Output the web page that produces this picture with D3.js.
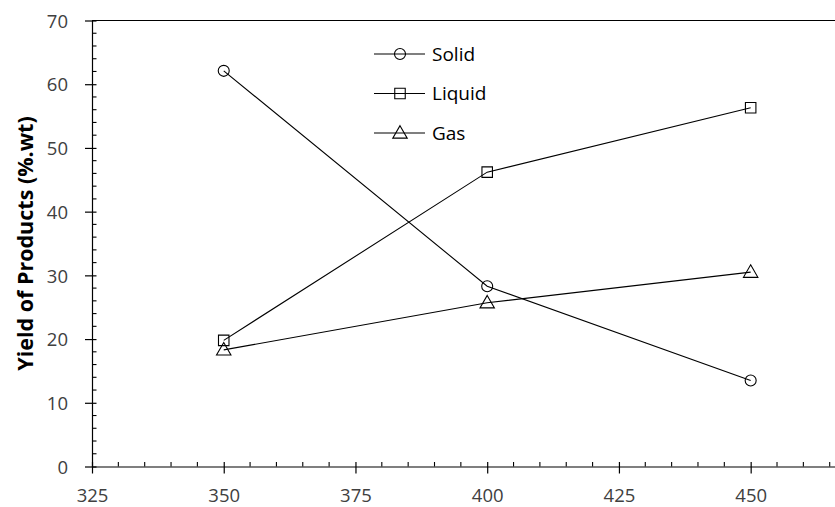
<!DOCTYPE html>
<html>
<head>
<meta charset="utf-8">
<script src="https://cdn.jsdelivr.net/npm/d3@7"></script>
<style>
  body { margin: 0; background: #fff; }
  svg { display: block; font-family: "Open Sans", "Noto Sans", sans-serif; }
</style>
</head>
<body>
<div id="chart"></div>
<script>
// Data
const temperatures = [350, 400, 450];
const solid = [62.1, 28.3, 13.5];
const liquid = [19.8, 46.2, 56.3];
const gas = [18.3, 25.7, 30.5];
const seriesNames = ["Solid", "Liquid", "Gas"];
const xTicks = [325, 350, 375, 400, 425, 450];
const yTicks = [0, 10, 20, 30, 40, 50, 60, 70];

const W = 835, H = 507;
// plot runs on past the right edge of the window (cut off, as in the reference)
const margin = {top: 20.5, right: -(750.7 + 131.7 - 835), bottom: 40.5, left: 92};
const width = W - margin.left - margin.right;
const height = H - margin.top - margin.bottom;

const svg = d3.select("#chart").append("svg")
    .attr("width", W)
    .attr("height", H);

const g = svg.append("g")
    .attr("transform", `translate(${margin.left},${margin.top})`);

const x = d3.scaleLinear().domain([325, 475]).range([0, width]);
const y = d3.scaleLinear().domain([0, 70]).range([height, 0]);

// top border line
g.append("line")
    .attr("x1", 0).attr("x2", width)
    .attr("y1", 0).attr("y2", 0)
    .attr("stroke", "#000").attr("stroke-width", 1.2);

// minor ticks (inside)
g.append("g").selectAll("line")
    .data(d3.range(330, 475, 5).filter(v => v % 25 !== 0))
    .join("line")
    .attr("x1", d => x(d)).attr("x2", d => x(d))
    .attr("y1", height).attr("y2", height - 4.5)
    .attr("stroke", "#000").attr("stroke-width", 1.1);
g.append("g").selectAll("line")
    .data(d3.range(2, 70, 2).filter(v => v % 10 !== 0))
    .join("line")
    .attr("x1", 0).attr("x2", 4.5)
    .attr("y1", d => y(d)).attr("y2", d => y(d))
    .attr("stroke", "#000").attr("stroke-width", 1.1);

// X axis
const xAxis = g.append("g")
    .attr("transform", `translate(0,${height})`)
    .call(d3.axisBottom(x).tickValues(xTicks).tickSize(7).tickSizeOuter(0));
xAxis.selectAll(".tick line").attr("y1", -4.5);
// Y axis
const yAxis = g.append("g")
    .call(d3.axisLeft(y).tickValues(yTicks).tickSize(7).tickSizeOuter(0));
yAxis.selectAll(".tick line").attr("x1", 4.5);

[xAxis, yAxis].forEach(a => {
  a.select(".domain").attr("stroke", "#000").attr("stroke-width", 1.2);
  a.selectAll(".tick line").attr("stroke", "#000").attr("stroke-width", 1.2);
  a.selectAll("text")
    .attr("font-size", 18.5)
    .attr("fill", "#404040")
    .style("font-family", "'Open Sans', 'Noto Sans', sans-serif");
});
xAxis.selectAll("text").attr("y", 35).attr("dy", 0);
yAxis.selectAll("text").attr("x", -24).attr("dy", "0.36em");

// Y title
svg.append("text")
    .attr("transform", `translate(33,${margin.top + height / 2}) rotate(-90)`)
    .attr("text-anchor", "middle")
    .attr("font-size", 21.5)
    .attr("font-weight", "bold")
    .attr("fill", "#000")
    .text("Yield of Products (%.wt)");

const series = [solid, liquid, gas];
const shapes = [d3.symbolCircle, d3.symbolSquare, d3.symbolTriangle];
const sizes = [95, 110, 90];

const line = d3.line()
    .x((d, i) => x(temperatures[i]))
    .y(d => y(d));

series.forEach((vals, s) => {
  g.append("path")
      .datum(vals)
      .attr("fill", "none")
      .attr("stroke", "#000")
      .attr("stroke-width", 1.1)
      .attr("d", line);
  g.append("g").selectAll("path")
      .data(vals)
      .join("path")
      .attr("transform", (d, i) => `translate(${x(temperatures[i])},${y(d) + (s === 2 ? 1 : 0)})`)
      .attr("d", d3.symbol().type(shapes[s]).size(sizes[s]))
      .attr("fill", "none")
      .attr("stroke", "#000")
      .attr("stroke-width", 1.1);
});

// Legend
const legend = svg.append("g").attr("transform", "translate(374,54)");
seriesNames.forEach((name, s) => {
  const row = legend.append("g").attr("transform", `translate(0,${s * 39.5})`);
  row.append("line")
      .attr("x1", 0).attr("x2", 51)
      .attr("stroke", "#000").attr("stroke-width", 1.1);
  row.append("path")
      .attr("transform", `translate(26,${s === 2 ? 1 : 0})`)
      .attr("d", d3.symbol().type(shapes[s]).size(sizes[s]))
      .attr("fill", "none")
      .attr("stroke", "#000")
      .attr("stroke-width", 1.1);
  row.append("text")
      .attr("x", 58)
      .attr("dy", "0.36em")
      .attr("font-size", 19)
      .attr("fill", "#000")
      .text(name);
});
</script>
</body>
</html>
